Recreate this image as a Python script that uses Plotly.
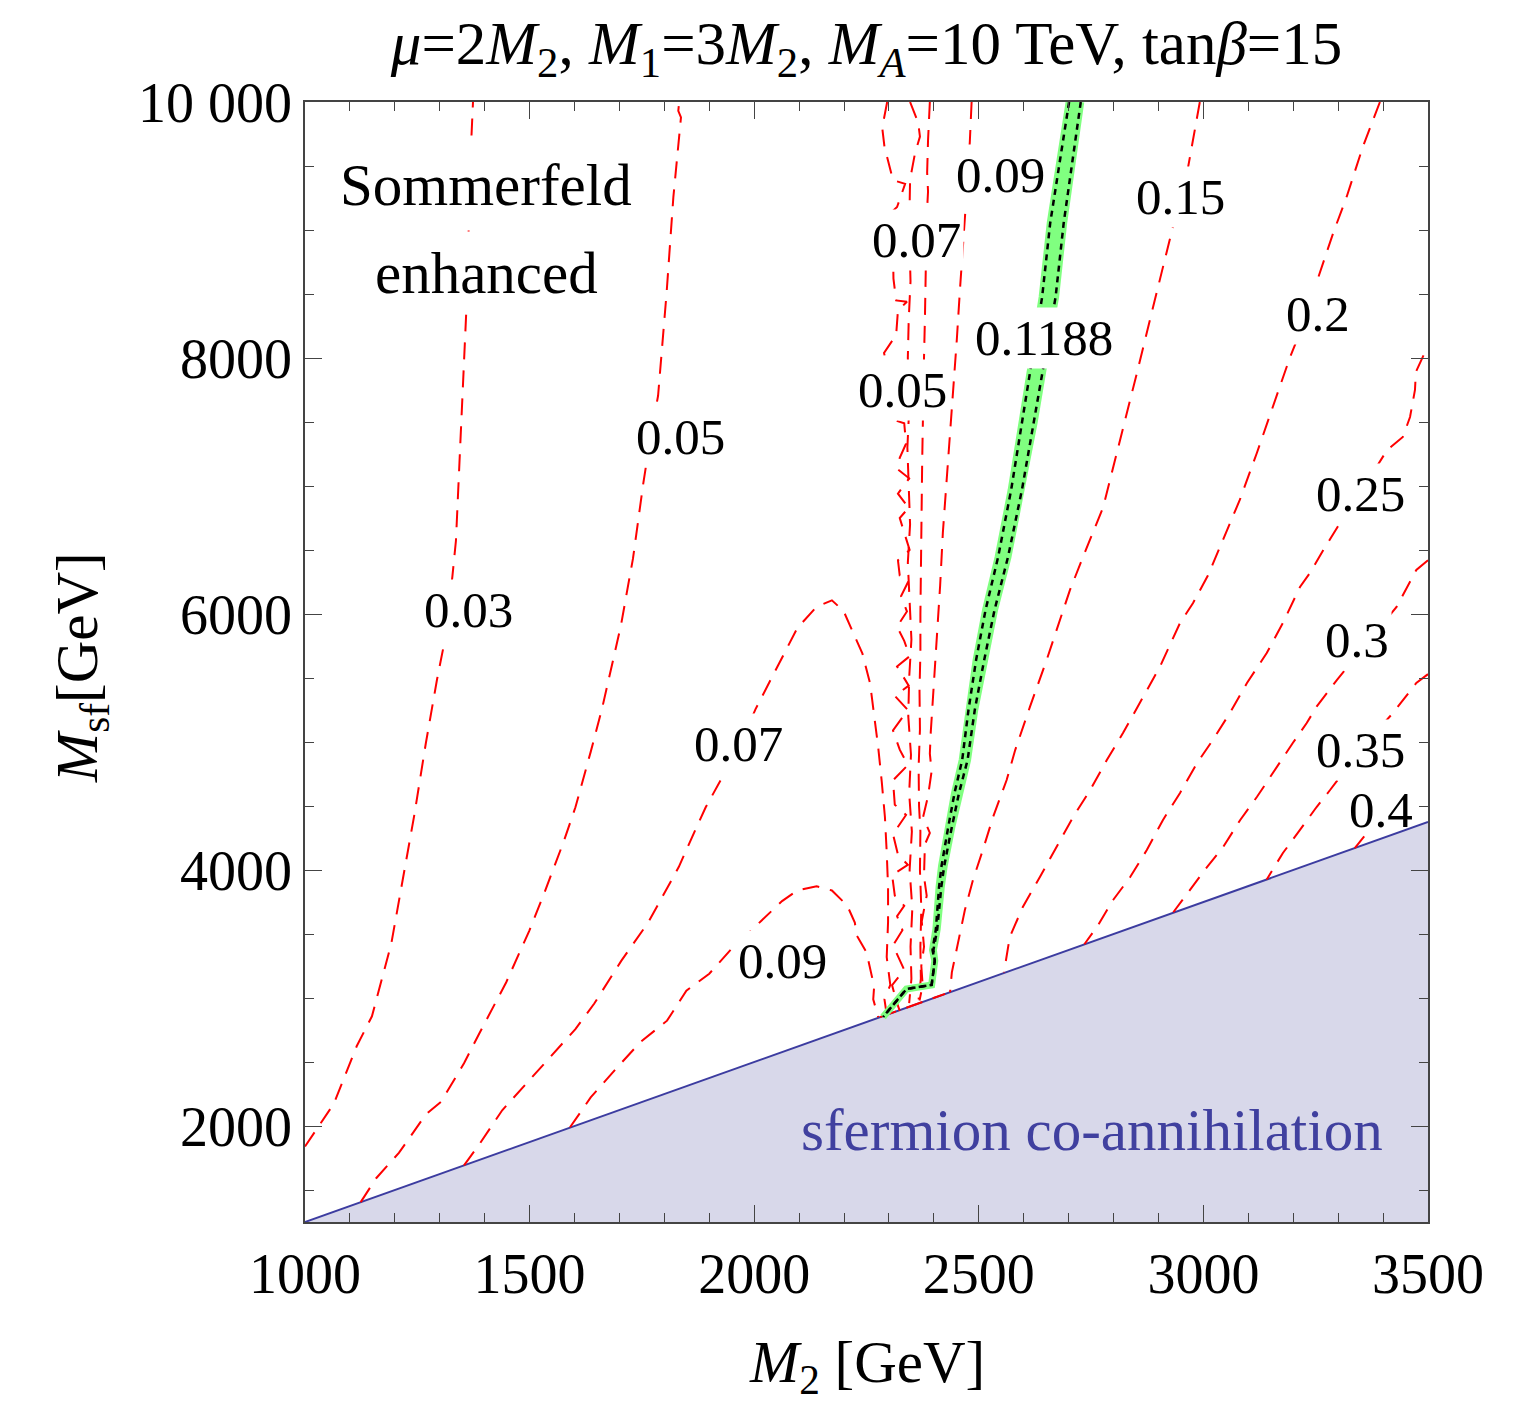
import plotly.graph_objects as go

# ---------------- axes ----------------
x_range = [1000, 3500]
y_range = [1250, 10000]
x_tickvals = [1000, 1500, 2000, 2500, 3000, 3500]
x_ticktext = ["1000", "1500", "2000", "2500", "3000", "3500"]
y_tickvals = [2000, 4000, 6000, 8000, 10000]
y_ticktext = ["2000", "4000", "6000", "8000", "10 000"]

# ---------------- excluded region boundary (M_sf = 1.25 M2) ----------------
bound_m2 = [1000, 3500]
bound_msf = [1250, 4375]

# ---------------- relic density contours (red dashed) ----------------
c003_m2 = [1000, 1064, 1115, 1149, 1192, 1218, 1243, 1269, 1294, 1311, 1320, 1328, 1336, 1351, 1359, 1370, 1374]
c003_msf = [1840, 2173, 2623, 2857, 3423, 3923, 4423, 4990, 5490, 5790, 6050, 6290, 6572, 7705, 8360, 9687, 10000]

c005_m2 = [1124, 1158, 1209, 1269, 1303, 1354, 1388, 1448, 1499, 1533, 1576, 1602, 1636, 1661, 1687, 1704,
           1721, 1730, 1753, 1770, 1786, 1805, 1820, 1835, 1837, 1831, 1833]
c005_msf = [1405, 1590, 1790, 2090, 2190, 2490, 2723, 3123, 3523, 3823, 4223, 4490, 4923, 5257, 5657, 5923,
            6257, 6430, 7019, 7400, 7705, 8510, 9255, 9791, 9880, 9930, 10000]

c007_m2 = [1354, 1388, 1439, 1499, 1550, 1602, 1644, 1704, 1764, 1807, 1832, 1866, 1892, 1934, 1968, 2003,
           2037, 2096, 2139, 2173, 2199, 2216, 2241, 2258, 2267, 2276, 2284, 2291, 2295, 2298, 2298, 2295,
           2303, 2290, 2295]
c007_msf = [1692, 1857, 2123, 2357, 2557, 2757, 2957, 3290, 3590, 3857, 4023, 4290, 4490, 4757, 4973, 5257,
            5490, 5890, 6057, 6107, 6023, 5890, 5690, 5457, 5223, 4961, 4688, 4414, 4141, 3867, 3594, 3320,
            3102, 2990, 2870]

c009_m2 = [1590, 1636, 1695, 1747, 1806, 1849, 1900, 1951, 2002, 2062, 2096, 2139, 2173, 2207, 2224, 2228,
           2250, 2258, 2267, 2265, 2276]
c009_msf = [1990, 2223, 2457, 2657, 2823, 3057, 3190, 3390, 3557, 3757, 3840, 3873, 3840, 3723, 3590, 3490,
            3357, 3223, 3090, 2990, 2850]

# narrow resonance band: jagged 0.05 / 0.07 / 0.09 contours
band005a_m2 = [2296, 2285, 2290, 2309, 2336, 2318, 2300, 2330, 2309, 2310, 2316, 2340, 2320, 2316, 2289,
               2298, 2316, 2334, 2338, 2324, 2320, 2345, 2320, 2344, 2324, 2334, 2346, 2320, 2324, 2344,
               2327, 2340, 2318, 2334, 2346, 2318, 2344, 2313, 2342, 2309, 2324, 2342, 2309, 2313, 2338,
               2309, 2320, 2342, 2307, 2313, 2334, 2318, 2330, 2309, 2324, 2334, 2307, 2316, 2324]
band005a_msf = [10000, 9800, 9650, 9390, 9360, 9180, 9120, 9080, 8870, 8620, 8450, 8440, 8370, 8180, 8040,
                7900, 7510, 7490, 7330, 7220, 7130, 7060, 6940, 6830, 6750, 6640, 6500, 6420, 6300, 6260,
                6140, 6020, 5900, 5790, 5670, 5590, 5440, 5360, 5250, 5090, 4940, 4820, 4700, 4510, 4430,
                4280, 4120, 4040, 3960, 3800, 3720, 3640, 3530, 3410, 3300, 3220, 3100, 2980, 2900]

band005b_m2 = [2347, 2365, 2369, 2358, 2351, 2347, 2345, 2348, 2344, 2342, 2345, 2341, 2344, 2347, 2342,
               2346, 2350, 2345, 2343, 2349, 2345, 2351, 2346, 2352, 2348, 2350, 2345]
band005b_msf = [10000, 9840, 9730, 9600, 9470, 9390, 9000, 8600, 8300, 8000, 7600, 7300, 7000, 6700, 6400,
                6100, 5800, 5500, 5200, 4900, 4600, 4300, 4000, 3700, 3400, 3150, 2960]

band007_m2 = [2391, 2389, 2387, 2385, 2387, 2384, 2383, 2381, 2380, 2378, 2377, 2375, 2374, 2373, 2372,
              2371, 2370, 2370, 2368, 2369, 2366, 2367, 2370, 2369, 2372, 2370, 2371, 2366]
band007_msf = [10000, 9860, 9700, 9450, 9300, 9100, 8800, 8600, 8300, 8000, 7600, 7400, 7200, 7000, 6600,
               6300, 6000, 5700, 5400, 5100, 4800, 4500, 4300, 4000, 3700, 3400, 3150, 2990]

band009_m2 = [2484, 2480, 2471, 2465, 2458, 2451, 2443, 2436, 2428, 2420, 2414, 2406, 2398, 2393, 2391,
              2395, 2387, 2376, 2391, 2380, 2378, 2384, 2373, 2378, 2372, 2375, 2368]
band009_msf = [10000, 9690, 9195, 8922, 8531, 8141, 7750, 7359, 6969, 6636, 6227, 5812, 5402, 5073, 4909,
               4773, 4578, 4414, 4290, 4200, 3950, 3800, 3600, 3400, 3250, 3100, 2980]

# contour pieces running along the excluded-region edge below the resonance
edge_m2 = [2280, 2330, 2370, 2425]
edge_msf = [2851, 2914, 2964, 3032]

c015_m2 = [2992, 2966, 2932, 2910, 2888, 2852, 2814, 2777, 2732, 2703, 2688, 2651, 2614, 2581, 2562, 2532,
           2509, 2487, 2469, 2451, 2440, 2436]
c015_msf = [10000, 9492, 9023, 8700, 8398, 7883, 7359, 6836, 6445, 6188, 6031, 5641, 5276, 4937, 4703, 4416,
            4156, 3922, 3687, 3400, 3200, 3045]

c020_m2 = [3393, 3355, 3319, 3289, 3256, 3230, 3193, 3155, 3119, 3081, 3037, 3010, 2977, 2948, 2903, 2859,
           2821, 2785, 2748, 2710, 2674, 2636, 2598, 2569, 2556]
c020_msf = [10000, 9651, 9260, 8977, 8633, 8330, 8008, 7617, 7258, 6891, 6523, 6300, 6086, 5930, 5586, 5305,
            5070, 4859, 4625, 4414, 4180, 3945, 3711, 3477, 3200]

c025_m2 = [3490, 3473, 3471, 3460, 3444, 3409, 3349, 3304, 3267, 3237, 3215, 3177, 3141, 3097, 3059, 3021,
           2986, 2948, 2910, 2874, 2837, 2799, 2763, 2735]
c025_msf = [8020, 7891, 7750, 7539, 7383, 7281, 6945, 6711, 6500, 6320, 6211, 5930, 5695, 5461, 5227, 5016,
            4836, 4602, 4391, 4156, 3945, 3766, 3555, 3420]

c030_m2 = [3500, 3474, 3430, 3370, 3297, 3252, 3230, 3199, 3155, 3119, 3082, 3044, 3008, 2970, 2933]
c030_msf = [6420, 6344, 6055, 5797, 5484, 5276, 5148, 4992, 4758, 4570, 4391, 4180, 4023, 3844, 3670]

c035_m2 = [3500, 3474, 3422, 3349, 3282, 3252, 3215, 3177, 3141]
c035_msf = [5530, 5461, 5227, 4937, 4625, 4492, 4313, 4133, 3926]

c040_m2 = [3358, 3337]
c040_msf = [4262, 4171]

# ---------------- Omega h^2 = 0.1188 band (green) ----------------
band_msf = [10000, 9573, 9055, 8477, 7930, 7492, 6969, 6445, 6031, 5641, 5250, 4859, 4602, 4336, 4031,
            3867, 3539, 3375, 3291, 3102, 3070, 2852]
band_left_m2 = [2701, 2682, 2659, 2641, 2616, 2597, 2572, 2543, 2515, 2494, 2477, 2463, 2446, 2432, 2417,
                2411.5, 2404.5, 2397, 2402, 2395, 2339, 2287]
band_right_m2 = [2727, 2710, 2689, 2671, 2644, 2623, 2596, 2565, 2535, 2512, 2491, 2475, 2456, 2440, 2423,
                 2416.5, 2407.5, 2399, 2402, 2395, 2339, 2287]

# ---------------- contour labels ----------------
label_text = ["0.03", "0.05", "0.07", "0.09", "0.07", "0.05", "0.09", "0.1188", "0.15", "0.2", "0.25",
              "0.3", "0.35", "0.4"]
label_m2 = [1364, 1837, 1966, 2062, 2362, 2330, 2549, 2645, 2949, 3254, 3349, 3342, 3349, 3395]
label_msf = [6031, 7379, 4984, 3289, 8922, 7750, 9430, 8160, 9254, 8340, 6941, 5797, 4937, 4469]
label_boxed = [True, True, True, True, True, True, True, True, True, True, True, True, True, False]

FONT = "Liberation Serif"
RED = "#ff0000"
GREEN = "#80ff80"

fig = go.Figure()

# excluded (co-annihilation) region
fig.add_trace(go.Scatter(x=bound_m2, y=bound_msf, mode="lines", fill="tozeroy",
                         fillcolor="#d8d8ea", line=dict(color="#3c3ca0", width=2),
                         hoverinfo="skip", showlegend=False))

red_curves = [
    (c003_m2, c003_msf), (c005_m2, c005_msf), (c007_m2, c007_msf), (c009_m2, c009_msf),
    (band005a_m2, band005a_msf), (band005b_m2, band005b_msf), (band007_m2, band007_msf),
    (band009_m2, band009_msf), (edge_m2, edge_msf), (c015_m2, c015_msf), (c020_m2, c020_msf),
    (c025_m2, c025_msf), (c030_m2, c030_msf), (c035_m2, c035_msf), (c040_m2, c040_msf),
]
for xs, ys in red_curves:
    fig.add_trace(go.Scatter(x=xs, y=ys, mode="lines",
                             line=dict(color=RED, width=2, dash="17px,11px"),
                             hoverinfo="skip", showlegend=False))

# green band
poly_x = band_left_m2 + band_right_m2[::-1]
poly_y = band_msf + band_msf[::-1]
fig.add_trace(go.Scatter(x=poly_x, y=poly_y, mode="lines", fill="toself", fillcolor=GREEN,
                         line=dict(color=GREEN, width=7), hoverinfo="skip", showlegend=False))
for xs in (band_left_m2, band_right_m2):
    fig.add_trace(go.Scatter(x=xs, y=band_msf, mode="lines",
                             line=dict(color="black", width=2.5, dash="6px,5px"),
                             hoverinfo="skip", showlegend=False))

annotations = []
for t, xv, yv, boxed in zip(label_text, label_m2, label_msf, label_boxed):
    annotations.append(dict(x=xv, y=yv, xref="x", yref="y", text=t, showarrow=False,
                            font=dict(family=FONT, size=51, color="black"),
                            bgcolor="white" if boxed else "rgba(0,0,0,0)", borderpad=2))

annotations += [
    dict(x=1403, y=9352, xref="x", yref="y", text="Sommerfeld", showarrow=False,
         font=dict(family=FONT, size=59, color="black"), bgcolor="white", borderpad=8),
    dict(x=1403, y=8664, xref="x", yref="y", text="enhanced", showarrow=False,
         font=dict(family=FONT, size=59, color="black"), bgcolor="white", borderpad=8),
    dict(x=2752, y=1969, xref="x", yref="y", text="sfermion co-annihilation", showarrow=False,
         font=dict(family=FONT, size=59, color="#40409f")),
    dict(x=0.5, y=-0.129, xref="paper", yref="paper", yanchor="middle",
         text="<i>M</i><sub>2</sub> [GeV]", showarrow=False,
         font=dict(family=FONT, size=59, color="black")),
    dict(x=-0.2, y=0.495, xref="paper", yref="paper", xanchor="center", yanchor="middle",
         text="<i>M</i><sub>sf</sub>[GeV]", textangle=-90, showarrow=False,
         font=dict(family=FONT, size=59, color="black")),
]

axis_common = dict(showgrid=False, zeroline=False, showline=True, linecolor="#444", linewidth=1.5,
                   mirror="ticks", ticks="inside", ticklen=17, tickwidth=1.3, tickcolor="#444",
                   tickfont=dict(family=FONT, size=56, color="black"))

fig.update_layout(
    width=1527, height=1405,
    margin=dict(l=305, r=99, t=102, b=183),
    paper_bgcolor="white", plot_bgcolor="white",
    title=dict(text="<i>μ</i>=2<i>M</i><sub>2</sub>, <i>M</i><sub>1</sub>=3<i>M</i><sub>2</sub>, "
                    "<i>M<sub>A</sub></i>=10 TeV, tan<i>β</i>=15",
               x=0.5, xref="paper", y=1 - 43 / 1405, yref="container", yanchor="middle",
               xanchor="center", font=dict(family=FONT, size=61, color="black")),
    xaxis=dict(range=x_range, tickvals=x_tickvals, ticktext=x_ticktext, ticklabelstandoff=2,
               minor=dict(dtick=100, ticks="inside", ticklen=9, tickwidth=1, tickcolor="#444"),
               **axis_common),
    yaxis=dict(range=y_range, tickvals=y_tickvals, ticktext=y_ticktext, ticklabelstandoff=0,
               minor=dict(tick0=0, dtick=500, ticks="inside", ticklen=9, tickwidth=1, tickcolor="#444"),
               **axis_common),
    annotations=annotations,
)

fig.write_html("out.html")
